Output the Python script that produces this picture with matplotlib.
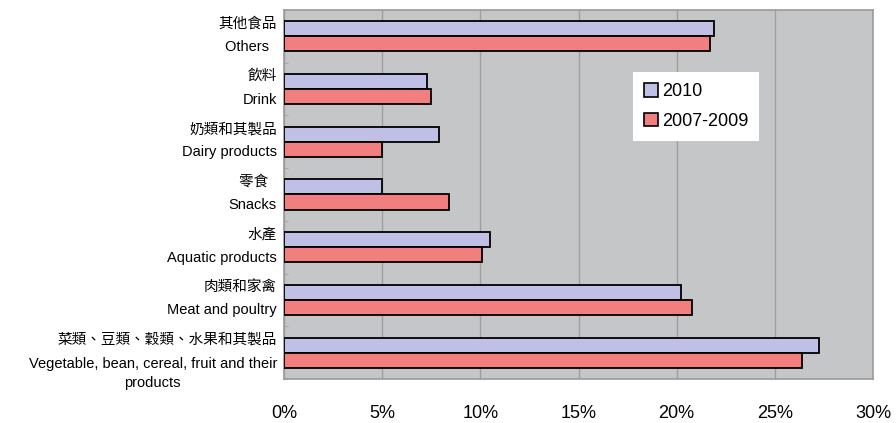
import matplotlib
matplotlib.use("Agg")
import matplotlib.pyplot as plt
import numpy as np
from matplotlib.patches import Patch

plt.rcParams['font.family'] = ['Liberation Sans', 'Noto Sans CJK TC', 'DejaVu Sans']

labels_zh = ["其他食品", "飲料", "奶類和其製品", "零食  ", "水產", "肉類和家禽", "菜類、豆類、穀類、水果和其製品"]
labels_en = ["Others  ", "Drink", "Dairy products", "Snacks", "Aquatic products", "Meat and poultry",
             "Vegetable, bean, cereal, fruit and their\nproducts"]
v2010 = [21.9, 7.3, 7.9, 5.0, 10.5, 20.2, 27.25]
v0709 = [21.7, 7.5, 5.0, 8.4, 10.1, 20.8, 26.4]
series = ["2010", "2007-2009"]
xticks = [0, 5, 10, 15, 20, 25, 30]

c2010 = "#C0C0E6"
c0709 = "#F27F7F"

fig = plt.figure(figsize=(8.96, 4.23), dpi=100)
ax = fig.add_axes([284/896, 1-379/423, (873-284)/896, (379-10)/423])
ax.set_facecolor("#C4C6C8")

n = len(labels_zh)
y = np.arange(n)
h = 0.285
ax.barh(y - h/2, v2010, height=h, color=c2010, edgecolor="black", linewidth=1.3, zorder=3)
ax.barh(y + h/2, v0709, height=h, color=c0709, edgecolor="black", linewidth=1.3, zorder=3)

ax.set_xlim(0, 30)
ax.set_ylim(n - 0.5, -0.5)
ax.set_xticks(xticks)
ax.set_xticklabels([f"{t}%" for t in xticks], fontsize=13)
ax.tick_params(axis='x', length=0, pad=19)
ax.set_yticks(np.arange(n + 1) - 0.5)
ax.set_yticklabels([])
ax.tick_params(axis='y', length=3, direction='in', color="#A8A8A8")
ax.xaxis.grid(True, color="#9E9E9E", linewidth=1.0, zorder=0)
ax.set_axisbelow(True)
for s in ax.spines.values():
    s.set_color("#9A9A9A")
    s.set_linewidth(1.2)

trans = ax.get_yaxis_transform()
fig.canvas.draw()
r = fig.canvas.get_renderer()
inv = ax.transAxes.inverted()
for i in range(n):
    ax.text(-0.012, i - 0.24, labels_zh[i], transform=trans, ha='right', va='center',
            fontsize=10.5, fontweight='medium')
    lines = labels_en[i].split('\n')
    t1 = ax.text(-0.012, i + 0.2, lines[0], transform=trans, ha='right', va='center', fontsize=10.5)
    if len(lines) > 1:
        t1.set_y(i + 0.22)
        bb1 = t1.get_window_extent(r)
        cx = (bb1.x0 + bb1.x1) / 2
        xa = inv.transform((cx, 0))[0]
        ax.text(xa, i + 0.58, lines[1], transform=trans, ha='center', va='center', fontsize=10.5)

handles = [Patch(facecolor=c2010, edgecolor="black", linewidth=1.2),
           Patch(facecolor=c0709, edgecolor="black", linewidth=1.2)]
leg = ax.legend(handles, series, loc='upper left', bbox_to_anchor=((633-284)/589, 1-(72-10)/369),
                fontsize=13, frameon=True, fancybox=False, framealpha=1, edgecolor="white",
                handlelength=0.8, handleheight=0.8, handletextpad=0.2, borderpad=0.6,
                labelspacing=0.7, borderaxespad=0)
leg.get_frame().set_facecolor("white")
leg.get_frame().set_linewidth(0)

fig.savefig("out.png", dpi=100, facecolor="white")
